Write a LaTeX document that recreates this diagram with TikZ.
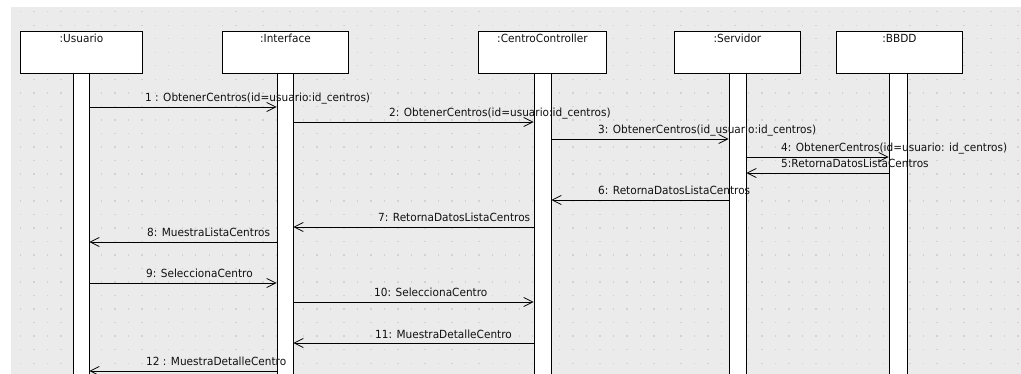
\documentclass[tikz,border=0pt]{standalone}
\usepackage{fontspec}
\setmainfont[FakeStretch=0.94]{DejaVu Sans}
\usetikzlibrary{arrows.meta}
\definecolor{canvas}{HTML}{EBEBEB}
\definecolor{griddot}{HTML}{D2D2D2}
\definecolor{ink}{HTML}{111111}
\tikzset{
  obj/.style={draw=black, fill=white, line width=0.9pt, minimum height=42pt,
    inner sep=0pt, anchor=north west},
  objname/.style={anchor=base, inner sep=0pt, text=ink,
    font=\fontsize{11.2}{13}\selectfont},
  bar/.style={draw=black, fill=white, line width=0.9pt, inner sep=0pt,
    minimum height=301pt, anchor=north},
  msg/.style={draw=black, line width=0.8pt,
    -{Straight Barb[length=9pt,width=9pt,line width=0.8pt]}},
  lbl/.style={anchor=base west, inner sep=0pt, text=ink,
    font=\fontsize{11.2}{13}\selectfont},
}
\begin{document}
\begin{tikzpicture}[x=1pt,y=-1pt]
  \useasboundingbox (0,0) rectangle (1021,374);
  % canvas with dotted grid
  \fill[white] (0,0) rectangle (1021,374);
  \fill[canvas] (11,7) rectangle (1021,374);
  \foreach \i in {0,...,74}{
    \foreach \j in {0,...,27}{
      \fill[griddot] ({20.5+13.48*\i-0.7},{11.7+13.52*\j-0.7}) rectangle +(1.4,1.4);
    }
  }
  % objects
  \node[obj, minimum width=122pt] (u) at (20,31) {};
  \node[obj, minimum width=126pt] (i) at (222,31) {};
  \node[obj, minimum width=128pt] (c) at (478,31) {};
  \node[obj, minimum width=126pt] (s) at (674,31) {};
  \node[obj, minimum width=126pt] (b) at (836,31) {};
  \node[objname] (un) at ([yshift=-12pt]u.north) {:Usuario};
  \node[objname] (in) at ([yshift=-12pt]i.north) {:Interface};
  \node[objname] (cn) at ([yshift=-12pt]c.north) {:CentroController};
  \node[objname] (sn) at ([yshift=-12pt]s.north) {:Servidor};
  \node[objname] (bn) at ([yshift=-12pt]b.north) {:BBDD};
  % activation bars
  \node[bar, minimum width=16pt] (ub) at (81,73) {};
  \node[bar, minimum width=16pt] (ib) at (285,73) {};
  \node[bar, minimum width=17pt] (cb) at (542.5,73) {};
  \node[bar, minimum width=17pt] (sb) at (737.5,73) {};
  \node[bar, minimum width=18pt] (bb) at (898,73) {};
  % messages
  \draw[msg] (ub.east |- 0,107) -- (ib.west |- 0,107);
  \draw[msg] (ib.east |- 0,122) -- (cb.west |- 0,122);
  \draw[msg] (cb.east |- 0,139) -- (sb.west |- 0,139);
  \draw[msg] (sb.east |- 0,157) -- (bb.west |- 0,157);
  \draw[msg] (bb.west |- 0,173) -- (sb.east |- 0,173);
  \draw[msg] (sb.west |- 0,200) -- (cb.east |- 0,200);
  \draw[msg] (cb.west |- 0,227) -- (ib.east |- 0,227);
  \draw[msg] (ib.west |- 0,242) -- (ub.east |- 0,242);
  \draw[msg] (ub.east |- 0,283) -- (ib.west |- 0,283);
  \draw[msg] (ib.east |- 0,302) -- (cb.west |- 0,302);
  \draw[msg] (cb.west |- 0,343) -- (ib.east |- 0,343);
  \draw[msg] (ib.west |- 0,371) -- (ub.east |- 0,371);
  % message labels
  \node[lbl] (m1) at (145,102) {1 : ObtenerCentros(id=usuario:id\_centros)};
  \node[lbl] (m2) at (389,117) {2: ObtenerCentros(id=usuario:id\_centros)};
  \node[lbl] (m3) at (598,134) {3: ObtenerCentros(id\_usuario:id\_centros)};
  \node[lbl] (m4) at (781,152) {4: ObtenerCentros(id=usuario: id\_centros)};
  \node[lbl] (m5) at (781,168) {5:RetornaDatosListaCentros};
  \node[lbl] (m6) at (598,195) {6: RetornaDatosListaCentros};
  \node[lbl] (m7) at (378,222) {7: RetornaDatosListaCentros};
  \node[lbl] (m8) at (147,237) {8: MuestraListaCentros};
  \node[lbl] (m9) at (146,278) {9: SeleccionaCentro};
  \node[lbl] (m10) at (374,297) {10: SeleccionaCentro};
  \node[lbl] (m11) at (375,338) {11: MuestraDetalleCentro};
  \node[lbl] (m12) at (146,366) {12 : MuestraDetalleCentro};
\end{tikzpicture}
\end{document}
